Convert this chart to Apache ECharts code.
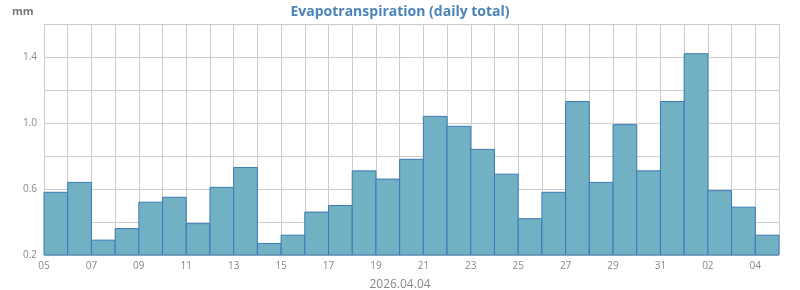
<!DOCTYPE html>
<html><head><meta charset="utf-8">
<script src="https://cdn.jsdelivr.net/npm/echarts@6/dist/echarts.min.js"></script>
<style>html,body{margin:0;padding:0;background:#fff}#c{width:800px;height:290px}</style>
</head><body><div id="c"></div>
<script>
const days = ['05','06','07','08','09','10','11','12','13','14','15','16','17','18','19','20','21','22','23','24','25','26','27','28','29','30','31','01','02','03','04'];
const values = [0.58,0.64,0.29,0.36,0.52,0.55,0.39,0.61,0.73,0.27,0.32,0.46,0.50,0.71,0.66,0.78,1.04,0.98,0.84,0.69,0.42,0.58,1.13,0.64,0.99,0.71,1.13,1.42,0.59,0.49,0.32];
const yTickLabels = ['0.2','0.6','1.0','1.4'];
const dateLabel = '2026.04.04';
const title = 'Evapotranspiration (daily total)';
const unit = 'mm';

const FONT = '"Open Sans", sans-serif';
const chart = echarts.init(document.getElementById('c'), null, {renderer:'canvas'});
const yMin = 0.2;
chart.setOption({
  animation:false,
  textStyle:{fontFamily:FONT},
  title:[
    {text:title,left:'center',top:0,textStyle:{fontFamily:FONT,fontSize:14,fontWeight:'bold',color:'#4a84ba'}},
    {text:unit,left:7,top:1,textStyle:{fontFamily:FONT,fontSize:11,fontWeight:'bold',color:'#777'}},
    {text:dateLabel,left:'center',top:274,textStyle:{fontFamily:FONT,fontSize:12,fontWeight:'normal',color:'#888'}}
  ],
  grid:{left:44,right:21,top:24,bottom:35},
  xAxis:{type:'value',min:0,max:days.length,interval:1,
    axisLine:{show:false},axisTick:{show:false},
    splitLine:{show:true,lineStyle:{color:'#cccccc',width:1}},
    axisLabel:{color:'#888',fontSize:10,margin:6,fontFamily:FONT,showMaxLabel:false,
      formatter:function(v){const i=Math.round(v);return (i%2===0&&i<days.length)?days[i]:'';}}},
  yAxis:{type:'value',min:yMin,max:1.6,interval:0.2,
    axisLine:{show:false},axisTick:{show:false},
    splitLine:{show:true,lineStyle:{color:'#cccccc',width:1}},
    axisLabel:{color:'#888',fontSize:10,margin:7,fontFamily:FONT,showMaxLabel:false,
      formatter:function(v){const s=v.toFixed(1);return yTickLabels.indexOf(s)>=0?s:'';}}},
  series:[{type:'custom',
    data:values.map((v,i)=>[i,v]),
    encode:{x:0,y:1},
    renderItem:function(params,api){
      const i=api.value(0),v=api.value(1);
      const p0=api.coord([i,v]);const p1=api.coord([i+1,yMin]);
      return {type:'rect',shape:{x:p0[0],y:p0[1],width:p1[0]-p0[0],height:p1[1]-p0[1]},
        style:{fill:'#72b0c4',stroke:'#3a7ab5',lineWidth:1}};
    }}]
});
</script></body></html>
